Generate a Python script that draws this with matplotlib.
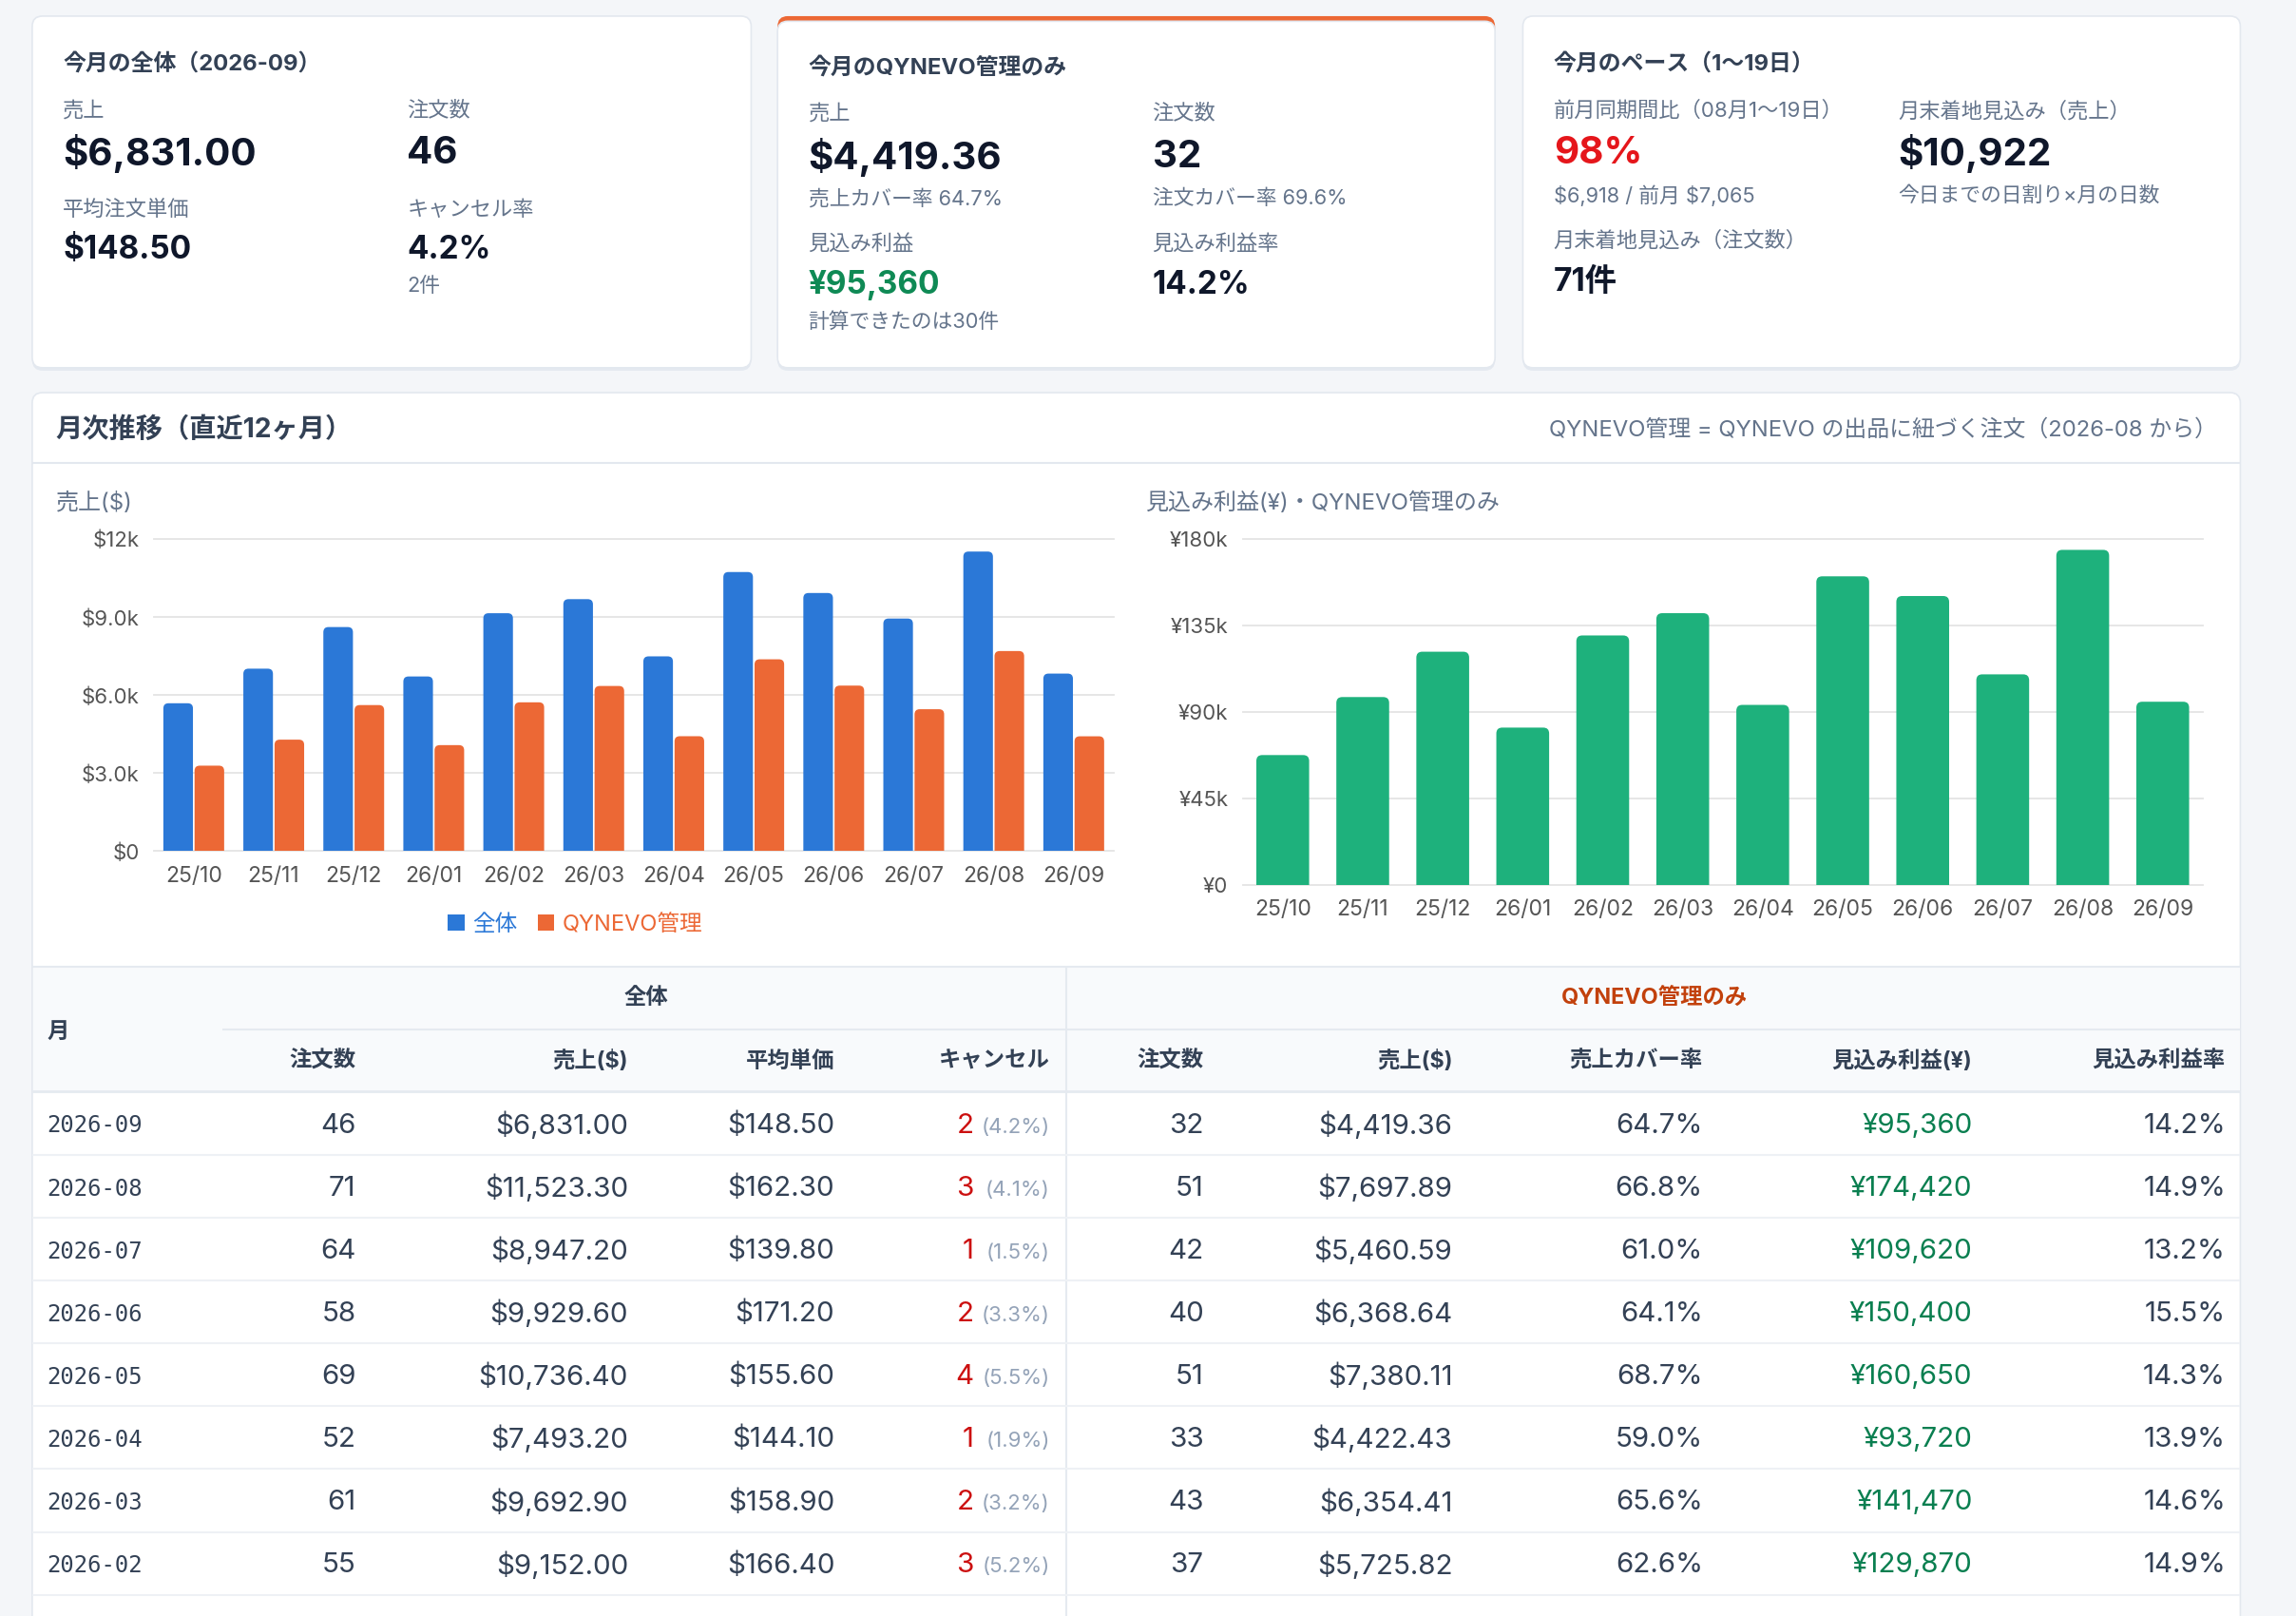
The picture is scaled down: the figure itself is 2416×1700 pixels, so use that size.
import numpy as np
import matplotlib
matplotlib.use('Agg')
import matplotlib.pyplot as plt
from matplotlib.patches import FancyBboxPatch, Rectangle

plt.rcParams['font.family'] = ['Inter', 'Noto Sans CJK JP', 'DejaVu Sans']

# ---- data ----
months = ['25/10', '25/11', '25/12', '26/01', '26/02', '26/03',
          '26/04', '26/05', '26/06', '26/07', '26/08', '26/09']
sales_all = [5690, 7020, 8620, 6720, 9152.00, 9692.90,
             7493.20, 10736.40, 9929.60, 8947.20, 11523.30, 6831.00]
sales_qy = [3290, 4290, 5620, 4080, 5725.82, 6354.41,
            4422.43, 7380.11, 6368.64, 5460.59, 7697.89, 4419.36]
profit_qy = [67600, 97800, 121400, 81900, 129870, 141470,
             93720, 160650, 150400, 109620, 174420, 95360]

sales_ticks = [0, 3000, 6000, 9000, 12000]
sales_tick_labels = ['$0', '$3.0k', '$6.0k', '$9.0k', '$12k']
profit_ticks = [0, 45000, 90000, 135000, 180000]
profit_tick_labels = ['¥0', '¥45k', '¥90k', '¥135k', '¥180k']

tbl_month = ['2026-09', '2026-08', '2026-07', '2026-06', '2026-05', '2026-04', '2026-03', '2026-02']
tbl_orders = ['46', '71', '64', '58', '69', '52', '61', '55']
tbl_sales = ['$6,831.00', '$11,523.30', '$8,947.20', '$9,929.60', '$10,736.40', '$7,493.20', '$9,692.90', '$9,152.00']
tbl_avg = ['$148.50', '$162.30', '$139.80', '$171.20', '$155.60', '$144.10', '$158.90', '$166.40']
tbl_cancel = ['2', '3', '1', '2', '4', '1', '2', '3']
tbl_cancel_pct = ['(4.2%)', '(4.1%)', '(1.5%)', '(3.3%)', '(5.5%)', '(1.9%)', '(3.2%)', '(5.2%)']
tbl_q_orders = ['32', '51', '42', '40', '51', '33', '43', '37']
tbl_q_sales = ['$4,419.36', '$7,697.89', '$5,460.59', '$6,368.64', '$7,380.11', '$4,422.43', '$6,354.41', '$5,725.82']
tbl_q_cover = ['64.7%', '66.8%', '61.0%', '64.1%', '68.7%', '59.0%', '65.6%', '62.6%']
tbl_q_profit = ['¥95,360', '¥174,420', '¥109,620', '¥150,400', '¥160,650', '¥93,720', '¥141,470', '¥129,870']
tbl_q_margin = ['14.2%', '14.9%', '13.2%', '15.5%', '14.3%', '13.9%', '14.6%', '14.9%']

# ---- colours ----
PAGE = '#f4f6f9'
BORDER = '#e3e8ef'
TITLE = '#334155'
LABEL = '#64748b'
VALUE = '#0f172a'
GREEN = '#0f8a55'
RED = '#e5161b'
BLUE = '#2b78d7'
ORANGE = '#ec6835'
BAR_GREEN = '#1eb17c'
TICK = '#555555'
GRID = '#e4e4e4'

W, H = 1568, 1103
fig = plt.figure(figsize=(24.16, 17), dpi=100)
fig.patch.set_facecolor(PAGE)
bg = fig.add_axes([0, 0, 1, 1])
bg.set_xlim(0, W)
bg.set_ylim(H, 0)
bg.axis('off')


def box(x, y, w, h, fc, ec='none', lw=1.0, r=7):
    bg.add_patch(FancyBboxPatch((x, y), w, h, boxstyle=f'round,pad=0,rounding_size={r}',
                                fc=fc, ec=ec, lw=lw))


def card(x, y, w, h, top=None):
    box(x, y + 2, w, h, '#e4e9f0')
    if top:
        box(x, y, w, h, top)
        box(x, y + 3.5, w, h - 3.5, 'white', BORDER, 1.2)
    else:
        box(x, y, w, h, 'white', BORDER, 1.2)


def txt(x, y, s, size, color, weight='normal', ha='left', family=None):
    kw = {'family': family} if family else {}
    bg.text(x, y + 1.5, s, fontsize=size, color=color, fontweight=weight,
            ha=ha, va='center', parse_math=False, **kw)


F_TITLE, F_LABEL, F_BIG, F_MID, F_SUB = 17.2, 16, 29, 24, 15.7

# ---- KPI cards ----
card(22, 11, 491, 240)
card(531, 11, 490, 240, top=ORANGE)
card(1040, 11, 490, 240)

txt(43, 42, '今月の全体（2026-09）', F_TITLE, TITLE, 'bold')
txt(43, 74, '売上', F_LABEL, LABEL)
txt(43, 103, '$6,831.00', F_BIG, VALUE, 'bold')
txt(43, 142, '平均注文単価', F_LABEL, LABEL)
txt(43, 169, '$148.50', F_MID, VALUE, 'bold')
txt(278, 74, '注文数', F_LABEL, LABEL)
txt(278, 103, '46', F_BIG, VALUE, 'bold')
txt(278, 142, 'キャンセル率', F_LABEL, LABEL)
txt(278, 169, '4.2%', F_MID, VALUE, 'bold')
txt(278, 194, '2件', F_SUB, LABEL)

txt(552, 45, '今月のQYNEVO管理のみ', F_TITLE, TITLE, 'bold')
txt(552, 76, '売上', F_LABEL, LABEL)
txt(552, 106, '$4,419.36', F_BIG, VALUE, 'bold')
txt(552, 134, '売上カバー率 64.7%', F_SUB, LABEL)
txt(552, 165, '見込み利益', F_LABEL, LABEL)
txt(552, 193, '¥95,360', F_MID, GREEN, 'bold')
txt(552, 218, '計算できたのは30件', F_SUB, LABEL)
txt(787, 76, '注文数', F_LABEL, LABEL)
txt(787, 106, '32', F_BIG, VALUE, 'bold')
txt(787, 134, '注文カバー率 69.6%', F_SUB, LABEL)
txt(787, 165, '見込み利益率', F_LABEL, LABEL)
txt(787, 193, '14.2%', F_MID, VALUE, 'bold')

txt(1061, 42, '今月のペース（1〜19日）', F_TITLE, TITLE, 'bold')
txt(1061, 74, '前月同期間比（08月1〜19日）', F_LABEL, LABEL)
txt(1061, 103, '98%', F_BIG, RED, 'bold')
txt(1061, 132, '$6,918 / 前月 $7,065', F_SUB, LABEL)
txt(1061, 163, '月末着地見込み（注文数）', F_LABEL, LABEL)
txt(1061, 191, '71件', F_MID, VALUE, 'bold')
txt(1296, 74, '月末着地見込み（売上）', F_LABEL, LABEL)
txt(1296, 103, '$10,922', F_BIG, VALUE, 'bold')
txt(1296, 132, '今日までの日割り×月の日数', F_SUB, LABEL)

# ---- main panel ----
card(22, 268, 1508, 900)
bg.hlines(316, 22, 1530, color=BORDER, lw=1.5)
txt(38, 292, '月次推移（直近12ヶ月）', 20.3, TITLE, 'bold')
txt(1514, 292, 'QYNEVO管理 = QYNEVO の出品に紐づく注文（2026-08 から）', 17.2, LABEL, ha='right')

txt(38, 342, '売上($)', 17.3, LABEL)
txt(782, 342, '見込み利益(¥)・QYNEVO管理のみ', 17.3, LABEL)


def px_rect(x0, x1, ytop, ybot):
    return [x0 / W, 1 - ybot / H, (x1 - x0) / W, (ybot - ytop) / H]


def style_axis(ax):
    ax.set_facecolor('none')
    for s in ax.spines.values():
        s.set_visible(False)
    ax.tick_params(axis='y', length=0, labelsize=16, labelcolor=TICK, pad=11)
    ax.tick_params(axis='x', length=0, labelsize=16.5, labelcolor=TICK, pad=11)
    ax.grid(axis='y', color=GRID, lw=1.3)
    ax.set_axisbelow(True)
    for gl in ax.yaxis.get_gridlines():
        gl.set_clip_on(False)


def round_tops(ax, bars, rect, r_px=3.5):
    # swap plain bars for ones with rounded top corners (bottom corners hidden below 0)
    x0, x1 = ax.get_xlim()
    y0, y1 = ax.get_ylim()
    xpp = (x1 - x0) / (rect[2] * W)
    ypp = (y1 - y0) / (rect[3] * H)
    aspect = ypp / xpp
    r = r_px * xpp
    for b in bars:
        p = FancyBboxPatch((b.get_x(), -r * aspect), b.get_width(), b.get_height() + r * aspect,
                           boxstyle=f'round,pad=0,rounding_size={r}', mutation_aspect=aspect,
                           fc=b.get_facecolor(), ec='none', zorder=3)
        ax.add_patch(p)
        b.set_visible(False)


x = np.arange(len(months))

r1 = px_rect(105, 760.6, 368, 581)
ax1 = fig.add_axes(r1)
b_all = ax1.bar(x - 0.195, sales_all, 0.37, color=BLUE, label='全体', zorder=3)
b_qy = ax1.bar(x + 0.195, sales_qy, 0.37, color=ORANGE, label='QYNEVO管理', zorder=3)
ax1.set_xlim(-0.5, len(months) - 0.5)
ax1.set_ylim(0, 12000)
ax1.set_yticks(sales_ticks, sales_tick_labels)
ax1.set_xticks(x, months)
style_axis(ax1)
leg = ax1.legend(loc='center', bbox_to_anchor=(0.439, -0.235), ncol=2, frameon=False,
                 fontsize=17, handlelength=0.75, handleheight=0.75,
                 handletextpad=0.35, columnspacing=0.9)
for t, c in zip(leg.get_texts(), [BLUE, ORANGE]):
    t.set_color(c)
round_tops(ax1, b_all, r1, 3.5 * 1568 / W * (W / 1568))
round_tops(ax1, b_qy, r1)

r2 = px_rect(848.7, 1504.3, 368, 604)
ax2 = fig.add_axes(r2)
b_profit = ax2.bar(x, profit_qy, 0.66, color=BAR_GREEN, zorder=3)
ax2.set_xlim(-0.5, len(months) - 0.5)
ax2.set_ylim(0, 180000)
ax2.set_yticks(profit_ticks, profit_tick_labels)
ax2.set_xticks(x, months)
style_axis(ax2)
round_tops(ax2, b_profit, r2, 4)

# ---- table ----
bg.add_patch(Rectangle((22.6, 660), 1506.8, 85, fc='#f8fafc', ec='none'))
LINE = '#e5eaf0'
bg.hlines(660, 22, 1530, color=LINE, lw=1.5)
bg.hlines(703, 152, 1530, color=LINE, lw=1.5)
bg.hlines(745, 22, 1530, color=LINE, lw=2)
bg.vlines(728, 660, H, color=LINE, lw=1.5)

HF = 16.8
txt(441, 680, '全体', HF, TITLE, 'bold', ha='center')
txt(1130, 680, 'QYNEVO管理のみ', HF, '#c2410c', 'bold', ha='center')
txt(32, 703, '月', HF, TITLE, 'bold')
col_right = [243, 429, 570, 717, 822, 992, 1163, 1347, 1520]
col_names = ['注文数', '売上($)', '平均単価', 'キャンセル', '注文数', '売上($)',
             '売上カバー率', '見込み利益(¥)', '見込み利益率']
for cx, name in zip(col_right, col_names):
    txt(cx, 723, name, HF, TITLE, 'bold', ha='right')

RF = 21.3
row_h = 42.86
for i in range(len(tbl_month)):
    yc = 767 + i * row_h
    bg.hlines(yc + row_h / 2, 22, 1530, color='#eef1f5', lw=1.5)
    txt(32, yc, tbl_month[i], 17.2, TITLE, family='DejaVu Sans Mono')
    txt(243, yc, tbl_orders[i], RF, TITLE, ha='right')
    txt(429, yc, tbl_sales[i], RF, TITLE, ha='right')
    txt(570, yc, tbl_avg[i], RF, TITLE, ha='right')
    txt(665, yc, tbl_cancel[i], RF, '#cc1010', ha='right')
    txt(717, yc + 1, tbl_cancel_pct[i], 16, '#94a3b8', ha='right')
    txt(822, yc, tbl_q_orders[i], RF, TITLE, ha='right')
    txt(992, yc, tbl_q_sales[i], RF, TITLE, ha='right')
    txt(1163, yc, tbl_q_cover[i], RF, TITLE, ha='right')
    txt(1347, yc, tbl_q_profit[i], RF, '#0a7f50', ha='right')
    txt(1520, yc, tbl_q_margin[i], RF, TITLE, ha='right')

fig.savefig('out.png', dpi=100, facecolor=PAGE)
